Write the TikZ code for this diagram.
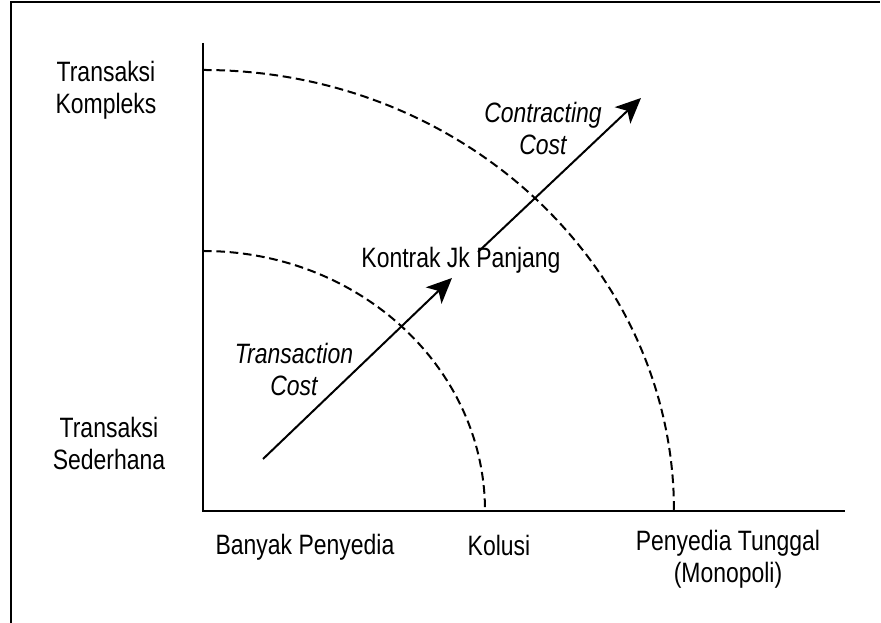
\documentclass[tikz,border=0pt]{standalone}
\usepackage{fontspec}
\setmainfont{Liberation Sans}[FakeStretch=0.82]
\usetikzlibrary{arrows.meta}

\begin{document}
\begin{tikzpicture}[x=0.75pt,y=0.75pt,
    txt/.style={font=\fontsize{21}{24}\selectfont, inner sep=0pt, align=center},
    itxt/.style={txt, font=\fontsize{21}{24}\selectfont\itshape},
    curve/.style={line width=1.5pt, dash pattern=on 6.5pt off 3.5pt},
    cost/.style={-{Stealth[length=19pt,width=17pt,inset=5pt]}, line width=1.5pt}]
    \useasboundingbox (-203,-112) rectangle (678,511);

    % frame
    \coordinate (f1) at (-192,-112);
    \coordinate (f2) at (-192,509);
    \coordinate (f3) at (677,509);
    \draw[line width=1.1pt] (f1) -- (f2) -- (f3);

    % axes
    \coordinate (o) at (0,0);
    \coordinate (ytop) at (0,468);
    \coordinate (xend) at (642,0);
    \draw[line width=1.7pt] (ytop) -- (o) -- (xend);

    % cost curves
    \draw[curve] (0,260) arc[start angle=90, end angle=0, x radius=282, y radius=260];
    \draw[curve] (0,441) arc[start angle=90, end angle=0, x radius=471, y radius=441];

    % arrows
    \coordinate (tc1) at (60,52);
    \coordinate (tc2) at (249,233);
    \coordinate (cc1) at (275,259);
    \coordinate (cc2) at (438,413);
    \draw[cost] (tc1) -- (tc2);
    \draw[cost] (cc1) -- (cc2);

    % labels
    \node[txt, anchor=north] (kompleks) at (-97,450) {Transaksi\\Kompleks};
    \node[txt, anchor=north] (sederhana) at (-94,94) {Transaksi\\Sederhana};
    \node[txt, anchor=base] (banyak) at (102,-44) {Banyak Penyedia};
    \node[txt, anchor=base] (kolusi) at (296,-45) {Kolusi};
    \node[txt, anchor=north] (tunggal) at (525,-19) {Penyedia Tunggal\\(Monopoli)};
    \node[txt, anchor=base] (kontrak) at (258,243) {Kontrak Jk Panjang};
    \node[itxt, anchor=north] (transaction) at (91,168) {Transaction\\Cost};
    \node[itxt, anchor=north] (contracting) at (340,409) {Contracting\\Cost};
\end{tikzpicture}
\end{document}
